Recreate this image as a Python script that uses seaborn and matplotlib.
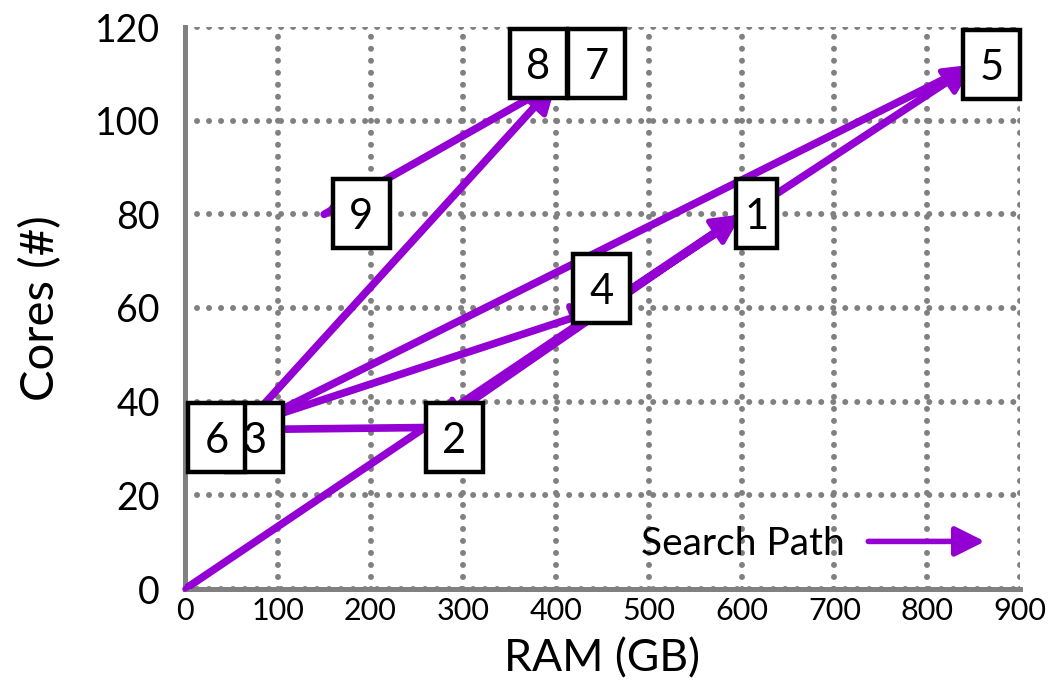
import matplotlib
matplotlib.use("Agg")
import numpy as np
import pandas as pd
import seaborn as sns
import matplotlib.pyplot as plt
from matplotlib.patches import Rectangle, FancyArrowPatch
from matplotlib.transforms import ScaledTranslation
from matplotlib.legend_handler import HandlerPatch

# Search path through the (RAM, cores) configuration space; the path starts at the origin
ram_gb = [0, 600, 268, 50, 450, 850, 60, 400, 400, 150]
cores = [0, 80, 34.5, 34, 60, 112, 34, 108, 108, 80]

# Step tags (step 1..9) and where each tag box is anchored
step_tags = ["1", "2", "3", "4", "5", "6", "7", "8", "9"]
tag_ram = [616, 290, 75, 449, 869, 34, 444, 381, 190]
tag_cores = [80.2, 32.4, 32.4, 64.2, 112.0, 32.4, 112.2, 112.2, 80.2]

x_ticks = list(range(0, 901, 100))
y_ticks = list(range(0, 121, 20))

PURPLE = "#9400D3"
GRID = "#808080"

sns.set_theme(style="white")
plt.rcParams["font.family"] = ["Lato", "DejaVu Sans"]
plt.rcParams["text.color"] = "black"
plt.rcParams["axes.labelcolor"] = "black"

fig = plt.figure(figsize=(10.61, 6.98), dpi=100)
ax = fig.add_axes([185 / 1061, 1 - 589 / 698, 835 / 1061, 562 / 698])

df = pd.DataFrame({"ram": ram_gb, "cores": cores, "order": range(len(ram_gb))})
sns.lineplot(data=df, x="ram", y="cores", sort=False, estimator=None,
             color=PURPLE, linewidth=5.5, ax=ax, zorder=3,
             solid_capstyle="round", solid_joinstyle="round")

head = "-|>,head_length=18,head_width=9"
for i in range(1, len(ram_gb)):
    start = (ram_gb[i - 1], cores[i - 1])
    end = (ram_gb[i], cores[i])
    if start == end:
        continue
    ax.annotate("", xy=end, xytext=start,
                arrowprops=dict(arrowstyle=head, mutation_scale=1, color=PURPLE,
                                lw=4, shrinkA=0, shrinkB=0,
                                capstyle="round", joinstyle="round"),
                zorder=4)

# Boxed step tags
for tag, tx, ty in zip(step_tags, tag_ram, tag_cores):
    w = 0.41 if tag == "1" else 0.57
    h = 0.69
    tr = fig.dpi_scale_trans + ScaledTranslation(tx, ty, ax.transData)
    ax.add_patch(Rectangle((-w / 2, -h / 2), w, h, transform=tr, facecolor="white",
                           edgecolor="black", linewidth=3.2, zorder=5, clip_on=False))
    ax.text(tx, ty, tag, ha="center", va="center_baseline", fontsize=30,
            color="black", zorder=6, clip_on=False)

ax.set_xlim(0, 900)
ax.set_ylim(0, 120)
ax.set_xticks(x_ticks)
ax.set_yticks(y_ticks)
ax.set_xticklabels([str(v) for v in x_ticks], fontsize=22)
ax.set_yticklabels([str(v) for v in y_ticks], fontsize=27)

ax.grid(True, color=GRID, linewidth=4.3, linestyle=(0, (0.01, 2.0)),
        dash_capstyle="round")
ax.set_axisbelow(True)

for side in ("top", "right"):
    ax.spines[side].set_visible(False)
for side in ("left", "bottom"):
    ax.spines[side].set_color(GRID)
    ax.spines[side].set_linewidth(3.6)

ax.tick_params(axis="both", direction="in", length=16, width=3.2, color=GRID,
               labelcolor="black")
ax.tick_params(axis="x", pad=6)
ax.tick_params(axis="y", pad=18)

ax.set_xlabel("RAM (GB)", fontsize=32)
ax.set_ylabel("Cores (#)", fontsize=34)
ax.xaxis.set_label_coords(0.5, -0.088)
ax.yaxis.set_label_coords(-0.147, 0.5)


class ArrowHandler(HandlerPatch):
    def create_artists(self, legend, orig_handle, xdescent, ydescent,
                       width, height, fontsize, trans):
        y = height / 2 - ydescent
        arrow = FancyArrowPatch((-xdescent, y), (-xdescent + width, y),
                                arrowstyle=head, mutation_scale=1, color=PURPLE,
                                lw=4, shrinkA=0, shrinkB=0, capstyle="round",
                                joinstyle="round", transform=trans)
        return [arrow]


proxy = FancyArrowPatch((0, 0), (1, 0), color=PURPLE)
ax.legend(handles=[proxy], labels=["Search Path"],
          handler_map={FancyArrowPatch: ArrowHandler()},
          loc="lower right", bbox_to_anchor=(0.958, 0.048), frameon=False,
          markerfirst=False, fontsize=28, handlelength=3.0, handletextpad=0.6,
          borderaxespad=0, borderpad=0)

fig.savefig("out.png", dpi=100)
